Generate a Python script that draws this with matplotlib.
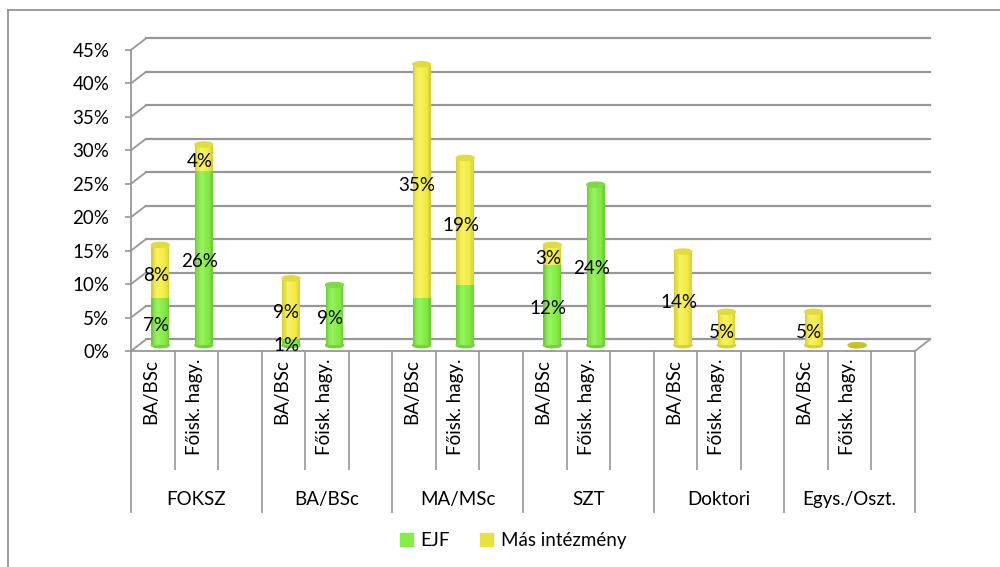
import matplotlib
matplotlib.use('Agg')
import matplotlib.pyplot as plt
import matplotlib.transforms as mtransforms
from matplotlib.patches import Ellipse, Patch, ConnectionPatch
from matplotlib.lines import Line2D
from matplotlib.colors import to_rgb
import numpy as np

plt.rcParams['font.family'] = ['Lato', 'DejaVu Sans']

# data (percent)
groups = ['FOKSZ', 'BA/BSc', 'MA/MSc', 'SZT', 'Doktori', 'Egys./Oszt.']
sub_labels = ['BA/BSc', 'Főisk. hagy.']
ejf = [7, 26, 1, 9, 7, 9, 12, 24, 0, 0, 0, 0]
mas = [8, 4, 9, 0, 35, 19, 3, 0, 14, 5, 5, 0]
# the original shows no data label on the MA/MSc EJF parts
ejf_labelled = [True, True, True, True, False, False, True, True, True, True, True, True]
yticks = list(range(0, 50, 5))

GREEN = '#86EE46'
YELLOW = '#F4EE46'
GRID = '#979797'

fig = plt.figure(figsize=(10, 5.67), dpi=100)
ax = fig.add_axes([0.131, 0.381, 0.784, 0.531])
nslots = 3 * len(groups)
ax.set_xlim(0, nslots)
ax.set_ylim(0, 45)


def shift(px, py):
    return ax.transData + mtransforms.ScaledTranslation(px / 100, py / 100, fig.dpi_scale_trans)


back = shift(15, 11.5)
mid = shift(7.5, 5.75)

# back wall grid + left wall diagonals
for y in yticks:
    ax.plot([0, nslots], [y, y], transform=back, color=GRID, lw=1.6, clip_on=False, zorder=1)
    ax.add_artist(ConnectionPatch((0, y), (0, y), coordsA=ax.transData, coordsB=back,
                                  color=GRID, lw=1.3, zorder=1))
ax.add_artist(ConnectionPatch((nslots, 0), (nslots, 0), coordsA=ax.transData, coordsB=back,
                              color=GRID, lw=1.3, zorder=1))

for s in ['top', 'right']:
    ax.spines[s].set_visible(False)
for s in ['left', 'bottom']:
    ax.spines[s].set_color(GRID)
    ax.spines[s].set_linewidth(1.3)

ax.set_yticks(yticks)
ax.set_yticklabels([f'{v}%' for v in yticks])
ax.tick_params(axis='y', length=4.5, width=1.2, color=GRID, pad=11, labelsize=13.5)

ax.set_xticks(range(0, nslots + 1, 3))
ax.set_xticks(range(0, nslots + 1), minor=True)
ax.set_xticklabels([])
ax.tick_params(axis='x', which='major', length=116.6, width=1.2, color=GRID)
ax.tick_params(axis='x', which='minor', length=85.7, width=1.2, color=GRID)


def mix(c1, c2, t):
    a, b = np.array(to_rgb(c1)), np.array(to_rgb(c2))
    return tuple(a * (1 - t) + b * t)


def cylinder(x, bottom, height, color, width=0.41, n=14):
    if height <= 0:
        return
    for k in range(n):
        t = (k + 0.5) / n * 2 - 1
        c = mix(color, 'white', 0.18 * max(0, 1 - abs(t + 0.25) * 2.2))
        c = mix(c, '#3a7a10' if color == GREEN else '#8a8010', 0.35 * abs(t) ** 3)
        bars = ax.bar(x - width / 2 + (k + 0.5) * width / n, height, width=width / n * 1.08,
                      bottom=bottom, color=c, lw=0, zorder=3)
        for p in bars:
            p.set_transform(mid)
            p.set_clip_on(False)


xs = [3 * g + j + 0.5 for g in range(len(groups)) for j in range(2)]
for x, e, m, show_e in zip(xs, ejf, mas, ejf_labelled):
    first = GREEN if e > 0 else YELLOW
    ax.add_patch(Ellipse((x, 0), 0.41, 0.75, color=mix(first, 'black', 0.12), transform=mid,
                         zorder=2.9, clip_on=False))
    cylinder(x, 0, e, GREEN)
    cylinder(x, e, m, YELLOW)
    top = YELLOW if m > 0 else GREEN
    if e + m == 0:
        topc = '#C9C12C'
    else:
        topc = mix(top, 'black', 0.08)
    ax.add_patch(Ellipse((x, e + m), 0.41, 0.75, color=topc, transform=mid, zorder=4,
                         clip_on=False))
    if e > 0 and show_e:
        ax.text(x, e / 2, f'{e}%', transform=shift(3, 2), ha='center', va='center',
                fontsize=13.5, zorder=5)
    if m > 0:
        ax.text(x, e + m / 2, f'{m}%', transform=shift(3, 2), ha='center', va='center',
                fontsize=13.5, zorder=5)

# category labels
xt = ax.get_xaxis_transform()
for x, lab in zip(xs, sub_labels * len(groups)):
    ax.text(x - 0.05, 0, lab, rotation=90, ha='center', va='top', fontsize=13.5,
            transform=xt + mtransforms.ScaledTranslation(0, -0.08, fig.dpi_scale_trans))
for g, lab in enumerate(groups):
    ax.text(3 * g + 1.5, 0, lab, ha='center', va='center', fontsize=13.5,
            transform=xt + mtransforms.ScaledTranslation(0, -1.49, fig.dpi_scale_trans))

handles = [Patch(color=GREEN, label='EJF'), Patch(color='#E8E240', label='Más intézmény')]
fig.legend(handles=handles, loc='center', bbox_to_anchor=(0.513, 0.046), ncol=2,
           frameon=False, fontsize=13.5, handlelength=0.7, handleheight=0.7,
           handletextpad=0.4, columnspacing=1.6)

# chart border (top and left visible)
fig.add_artist(Line2D([0.008, 1.0], [1 - 10 / 567] * 2, transform=fig.transFigure,
                      color='#8c8c8c', lw=1.2))
fig.add_artist(Line2D([0.008, 0.008], [0, 1 - 10 / 567], transform=fig.transFigure,
                      color='#8c8c8c', lw=1.2))

fig.savefig('out.png', dpi=100)
